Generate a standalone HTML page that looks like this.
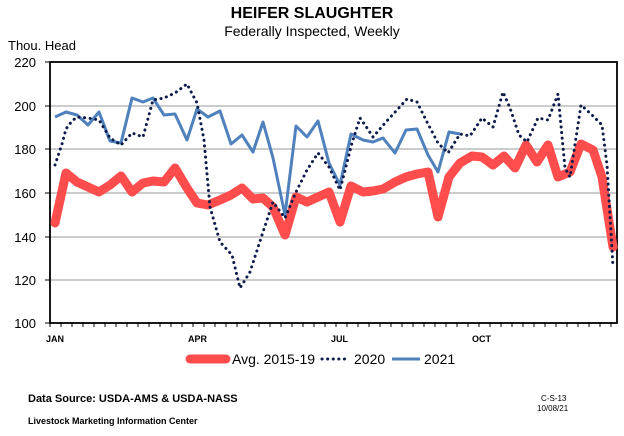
<!DOCTYPE html><html><head><style>body{margin:0;background:#fff}</style></head><body>
<svg width="624" height="431" xmlns="http://www.w3.org/2000/svg" font-family="Liberation Sans, sans-serif">
<rect width="624" height="431" fill="#fff"/>
<text x="312" y="18" text-anchor="middle" font-size="16" font-weight="bold">HEIFER SLAUGHTER</text>
<text x="312" y="36" text-anchor="middle" font-size="14">Federally Inspected, Weekly</text>
<text x="8" y="50" font-size="13">Thou. Head</text>
<g stroke="#bbb" stroke-width="1.5">
<line x1="50" y1="106" x2="617" y2="106"/><line x1="50" y1="149" x2="617" y2="149"/><line x1="50" y1="193" x2="617" y2="193"/><line x1="50" y1="237" x2="617" y2="237"/><line x1="50" y1="280" x2="617" y2="280"/></g>
<g font-size="13" text-anchor="end"><text x="36" y="67">220</text><text x="36" y="111">200</text><text x="36" y="154">180</text><text x="36" y="198">160</text><text x="36" y="242">140</text><text x="36" y="285">120</text><text x="36" y="328">100</text></g>
<g stroke="#000" stroke-width="1"><line x1="45" y1="62" x2="50" y2="62"/><line x1="45" y1="106" x2="50" y2="106"/><line x1="45" y1="149" x2="50" y2="149"/><line x1="45" y1="193" x2="50" y2="193"/><line x1="45" y1="237" x2="50" y2="237"/><line x1="45" y1="280" x2="50" y2="280"/><line x1="45" y1="323" x2="50" y2="323"/></g>
<g id="t" stroke="#000" stroke-width="1">
<path d="M50 323v4M61 323v4M72 323v4M83 323v4M94 323v4M105 323v4M116 323v4M127 323v4M138 323v4M149 323v4M160 323v4M171 323v4M182 323v4M193 323v4M204 323v4M215 323v4M226 323v4M237 323v4M248 323v4M259 323v4M270 323v4M281 323v4M292 323v4M303 323v4M314 323v4M325 323v4M336 323v4M347 323v4M358 323v4M369 323v4M380 323v4M391 323v4M402 323v4M413 323v4M424 323v4M435 323v4M446 323v4M457 323v4M468 323v4M479 323v4M490 323v4M501 323v4M512 323v4M523 323v4M534 323v4M545 323v4M556 323v4M567 323v4M578 323v4M589 323v4M600 323v4M611 323v4"/></g>
<rect x="50" y="62" width="567" height="261" fill="none" stroke="#000" stroke-width="1.8"/>
<g font-size="9" font-weight="bold"><text x="46" y="342">JAN</text><text x="188" y="342">APR</text><text x="331" y="342">JUL</text><text x="472" y="342">OCT</text></g>
<polyline fill="none" stroke="#ff4d4d" stroke-width="9" stroke-linejoin="round" stroke-linecap="round" points="55,223 66,173 77,182 88,187 99,192 110,185 121,176 132,192 143,183 153,181 164,182 175,168 187,188 197,203 208,205 220,200 231,195 242,188 253,199 263,198 273,207 285,235 296,197 307,202 318,197 329,192 340,222 351,186 363,192 373,191 383,189 395,182 406,177 417,174 428,172 438,217 449,177 460,163 472,156 482,157 493,165 504,156 515,168 526,145 537,162 548,145 558,177 570,172 581,144 593,150 602,177 613,247"/>
<polyline fill="none" stroke="#4f81bd" stroke-width="3" stroke-linejoin="round" points="55,117 66,112 77,115 88,125 99,112 110,141 121,143 132,98 143,102 153,98 164,115 175,114 187,140 197,109 208,117 220,111 231,144 242,135 253,152 263,122 273,158 285,215 296,126 307,137 318,121 329,163 340,185 351,134 363,140 373,142 383,138 395,153 406,130 417,129 428,155 438,172 449,132 460,134"/>
<polyline fill="none" stroke="#0d1b4a" stroke-width="3" stroke-dasharray="0.1 5.5" stroke-linecap="round" stroke-linejoin="round" points="55,165 62,144 66,129 72,121 77,117 88,118 99,120 110,138 121,145 132,133 143,137 153,100 164,98 175,93 187,84 197,103 204,140 210,207 220,242 232,255 240,288 250,272 263,232 273,202 285,218 296,192 307,170 318,153 329,167 340,190 352,143 360,118 365,125 373,137 385,123 397,110 407,99 417,102 427,122 438,143 448,153 460,134 470,136 482,118 493,127 503,92 510,108 519,135 527,142 538,118 548,120 558,94 565,168 570,177 581,105 592,115 602,125 607,165 613,267"/>
<line x1="190" y1="359" x2="226" y2="359" stroke="#ff4d4d" stroke-width="9" stroke-linecap="round"/>
<text x="232" y="364" font-size="14">Avg. 2015-19</text>
<line x1="322" y1="359" x2="350" y2="359" stroke="#0d1b4a" stroke-width="3" stroke-dasharray="0.1 5.5" stroke-linecap="round"/>
<text x="354" y="364" font-size="14">2020</text>
<line x1="392" y1="359" x2="420" y2="359" stroke="#4f81bd" stroke-width="3"/>
<text x="424" y="364" font-size="14">2021</text>
<text x="28" y="402" font-size="11" font-weight="bold">Data Source:  USDA-AMS &amp; USDA-NASS</text>
<text x="28" y="424" font-size="9" font-weight="bold">Livestock Marketing Information Center</text>
<text x="541" y="401" font-size="8">C-S-13</text>
<text x="537" y="411" font-size="8">10/08/21</text>
</svg></body></html>
